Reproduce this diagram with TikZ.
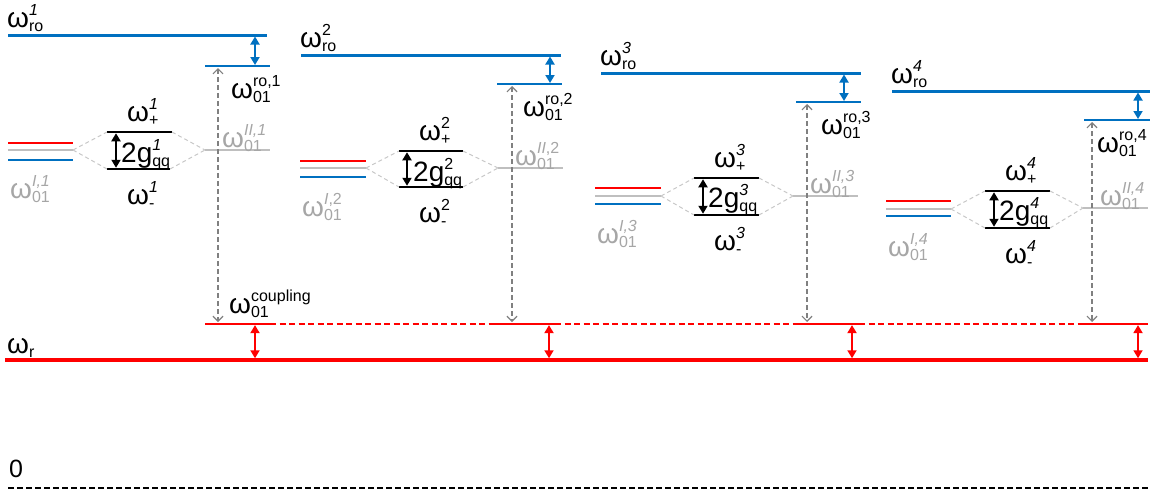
\documentclass[tikz,border=0pt]{standalone}
\usepackage{fontspec}
\setmainfont{Liberation Sans}
\usetikzlibrary{arrows.meta}
\definecolor{roblue}{RGB}{0,112,192}
\definecolor{lvgray}{RGB}{191,191,191}
\definecolor{txtgray}{RGB}{166,166,166}
\definecolor{linkgray}{RGB}{200,200,200}
\definecolor{probegray}{RGB}{128,128,128}
\newcommand{\lv}[3]{#1{\fontsize{16}{16}\selectfont\lower4.5pt\vbox{\baselineskip=16pt\lineskiplimit=-\maxdimen\hbox{#2}\hbox{#3}}}}
\begin{document}
\begin{tikzpicture}[x=1pt,y=-1pt,
  rolevel/.style={draw=roblue,line width=3pt},
  qlevel/.style={draw=roblue,line width=2pt},
  redlevel/.style={draw=red,line width=2pt},
  graylevel/.style={draw=lvgray,line width=2pt},
  bluelevel/.style={draw=roblue,line width=2pt},
  pmlevel/.style={draw=black,line width=2.5pt},
  cpllevel/.style={draw=red,line width=2.2pt},
  link/.style={draw=linkgray,line width=1pt,dash pattern=on 4pt off 3pt},
  probe/.style={draw=probegray,line width=1.2pt,dash pattern=on 5pt off 3pt,
    arrows={Straight Barb[length=5pt,width=10pt]-Straight Barb[length=5pt,width=10pt]},
    shorten <=2pt,shorten >=2pt},
  bluegap/.style={draw=roblue,line width=1.8pt,
    arrows={Triangle[length=8pt,width=9pt]-Triangle[length=8pt,width=9pt]},
    shorten <=1.5pt,shorten >=1pt},
  blackgap/.style={draw=black,line width=1.8pt,
    arrows={Triangle[length=8pt,width=9pt]-Triangle[length=8pt,width=9pt]},
    shorten <=1.25pt,shorten >=1.25pt},
  redgap/.style={draw=red,line width=1.8pt,
    arrows={Triangle[length=8pt,width=9pt]-Triangle[length=8pt,width=9pt]},
    shorten <=1.1pt,shorten >=1.75pt},
  lab/.style={anchor=base west,inner sep=0pt,font=\fontsize{28}{32}\selectfont},
  graylab/.style={lab,text=txtgray}]
\useasboundingbox (0,0) rectangle (1153,496);

\draw[draw=red,line width=3.5pt] (5,360) coordinate (w) -- (1148,360);
\node[lab] (wr) at (7,353) {\lv{ω}{}{r}};
\draw[draw=red,line width=1.2pt,dash pattern=on 6pt off 3.5pt] (270,324) -- (1084,324);
\node[lab,font=\fontsize{25}{28}\selectfont] (zero) at (9,477) {0};
\draw[draw=black,line width=2.4pt,dash pattern=on 6pt off 3pt] (8,488) coordinate (z) -- (1148,488);

\draw[rolevel] (8,35) -- (255,35) coordinate (r1) -- (267,35);
\draw[qlevel] (205,66) -- (218,66) coordinate (v1) -- (270,66) coordinate (q1);
\draw[redlevel] (8,143) -- (73,143);
\draw[graylevel] (8,150) -- (73,150) coordinate (g1);
\draw[bluelevel] (8,160) -- (73,160);
\draw[pmlevel] (107,132) coordinate (p1) -- (116,132) coordinate (a1) -- (172,132) coordinate (p1e);
\draw[pmlevel] (107,169) coordinate (m1) -- (170,169) coordinate (m1e);
\draw[graylevel] (205,150) coordinate (h1) -- (270,150);
\draw[cpllevel] (205,324) coordinate (c1) -- (255,324) coordinate (k1) -- (270,324);
\draw[link] (g1) -- (p1) (g1) -- (m1) (p1e) -- (h1) (m1e) -- (h1);
\draw[bluegap] (r1) -- (r1 |- q1);
\draw[blackgap] (a1) -- (a1 |- m1);
\draw[probe] (v1) -- (v1 |- c1);
\draw[redgap] (k1) -- (k1 |- w);
\node[lab] (ro1) at (7,27) {\lv{ω}{\textit{1}}{ro}};
\node[lab] (q1l) at (231,98) {\lv{ω}{ro,1}{01}};
\node[lab] (p1l) at (127,121) {\lv{ω}{\textit{1}}{+}};
\node[lab] (m1l) at (127,204) {\lv{ω}{\textit{1}}{-}};
\node[lab] (g1l) at (121,162) {\lv{2g}{\textit{1}}{qq}};
\node[graylab] (i1l) at (10,198) {\lv{ω}{\textit{I,1}}{01}};
\node[graylab] (h1l) at (222,147) {\lv{ω}{\textit{II,1}}{01}};
\node[lab] (c1l) at (229,313) {\lv{ω}{coupling}{01}};

\draw[rolevel] (301,55) -- (550,55) coordinate (r2) -- (561,55);
\draw[qlevel] (497,84) -- (512,84) coordinate (v2) -- (562,84) coordinate (q2);
\draw[redlevel] (300,161) -- (366,161);
\draw[graylevel] (300,168) -- (366,168) coordinate (g2);
\draw[bluelevel] (300,177) -- (366,177);
\draw[pmlevel] (399,151) coordinate (p2) -- (407,151) coordinate (a2) -- (463,151) coordinate (p2e);
\draw[pmlevel] (399,187) coordinate (m2) -- (463,187) coordinate (m2e);
\draw[graylevel] (498,168) coordinate (h2) -- (563,168);
\draw[cpllevel] (494,324) coordinate (c2) -- (549,324) coordinate (k2) -- (559,324);
\draw[link] (g2) -- (p2) (g2) -- (m2) (p2e) -- (h2) (m2e) -- (h2);
\draw[bluegap] (r2) -- (r2 |- q2);
\draw[blackgap] (a2) -- (a2 |- m2);
\draw[probe] (v2) -- (v2 |- c2);
\draw[redgap] (k2) -- (k2 |- w);
\node[lab] (ro2) at (300,47) {\lv{ω}{2}{ro}};
\node[lab] (q2l) at (523,116) {\lv{ω}{ro,2}{01}};
\node[lab] (p2l) at (419,140) {\lv{ω}{2}{+}};
\node[lab] (m2l) at (419,222) {\lv{ω}{2}{-}};
\node[lab] (g2l) at (413,181) {\lv{2g}{2}{qq}};
\node[graylab] (i2l) at (302,216) {\lv{ω}{\textit{I},2}{01}};
\node[graylab] (h2l) at (515,165) {\lv{ω}{\textit{II},2}{01}};

\draw[rolevel] (601,73) -- (844,73) coordinate (r3) -- (861,73);
\draw[qlevel] (796,102) -- (807,102) coordinate (v3) -- (861,102) coordinate (q3);
\draw[redlevel] (595,188) -- (661,188);
\draw[graylevel] (595,196) -- (661,196) coordinate (g3);
\draw[bluelevel] (595,204) -- (661,204);
\draw[pmlevel] (694,178) coordinate (p3) -- (703,178) coordinate (a3) -- (759,178) coordinate (p3e);
\draw[pmlevel] (694,215) coordinate (m3) -- (759,215) coordinate (m3e);
\draw[graylevel] (793,196) coordinate (h3) -- (858,196);
\draw[cpllevel] (798,324) coordinate (c3) -- (852,324) coordinate (k3) -- (863,324);
\draw[link] (g3) -- (p3) (g3) -- (m3) (p3e) -- (h3) (m3e) -- (h3);
\draw[bluegap] (r3) -- (r3 |- q3);
\draw[blackgap] (a3) -- (a3 |- m3);
\draw[probe] (v3) -- (v3 |- c3);
\draw[redgap] (k3) -- (k3 |- w);
\node[lab] (ro3) at (600,65) {\lv{ω}{\textit{3}}{ro}};
\node[lab] (q3l) at (821,134) {\lv{ω}{ro,3}{01}};
\node[lab] (p3l) at (714,167) {\lv{ω}{\textit{3}}{+}};
\node[lab] (m3l) at (714,250) {\lv{ω}{\textit{3}}{-}};
\node[lab] (g3l) at (708,207) {\lv{2g}{\textit{3}}{qq}};
\node[graylab] (i3l) at (597,243) {\lv{ω}{\textit{I,3}}{01}};
\node[graylab] (h3l) at (810,193) {\lv{ω}{\textit{II,3}}{01}};

\draw[rolevel] (892,91) -- (1138,91) coordinate (r4) -- (1150,91);
\draw[qlevel] (1084,120) -- (1092,120) coordinate (v4) -- (1150,120) coordinate (q4);
\draw[redlevel] (886,201) -- (951,201);
\draw[graylevel] (886,209) -- (951,209) coordinate (g4);
\draw[bluelevel] (886,216) -- (951,216);
\draw[pmlevel] (985,191) coordinate (p4) -- (994,191) coordinate (a4) -- (1050,191) coordinate (p4e);
\draw[pmlevel] (985,228) coordinate (m4) -- (1050,228) coordinate (m4e);
\draw[graylevel] (1083,208) coordinate (h4) -- (1148,208);
\draw[cpllevel] (1084,324) coordinate (c4) -- (1138,324) coordinate (k4) -- (1148,324);
\draw[link] (g4) -- (p4) (g4) -- (m4) (p4e) -- (h4) (m4e) -- (h4);
\draw[bluegap] (r4) -- (r4 |- q4);
\draw[blackgap] (a4) -- (a4 |- m4);
\draw[probe] (v4) -- (v4 |- c4);
\draw[redgap] (k4) -- (k4 |- w);
\node[lab] (ro4) at (891,83) {\lv{ω}{\textit{4}}{ro}};
\node[lab] (q4l) at (1097,152) {\lv{ω}{ro,4}{01}};
\node[lab] (p4l) at (1005,180) {\lv{ω}{\textit{4}}{+}};
\node[lab] (m4l) at (1005,263) {\lv{ω}{\textit{4}}{-}};
\node[lab] (g4l) at (999,220) {\lv{2g}{\textit{4}}{qq}};
\node[graylab] (i4l) at (888,256) {\lv{ω}{\textit{I,4}}{01}};
\node[graylab] (h4l) at (1100,205) {\lv{ω}{\textit{II,4}}{01}};
\end{tikzpicture}
\end{document}
